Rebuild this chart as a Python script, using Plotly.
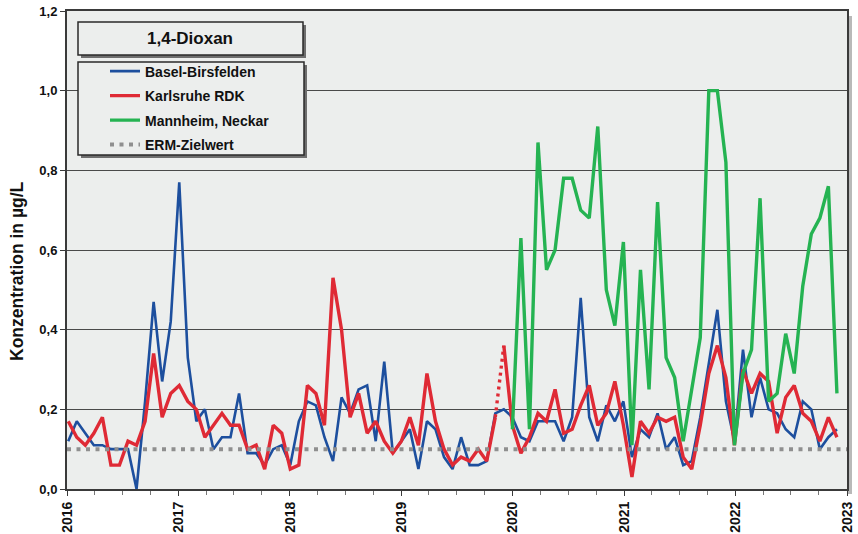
import pandas as pd
import plotly.graph_objects as go

# ---------------- data ----------------
FIRST_SAMPLE = "2016-01-05"      # 4-weekly composite samples
SAMPLE_STEP = "28D"

basel = [0.12, 0.17, 0.14, 0.11, 0.11, 0.10, 0.10, 0.10, 0.00, 0.22,
         0.47, 0.27, 0.42, 0.77, 0.33, 0.17, 0.20, 0.10, 0.13, 0.13,
         0.24, 0.09, 0.09, 0.06, 0.10, 0.11, 0.06, 0.17, 0.22, 0.21,
         0.13, 0.07, 0.23, 0.19, 0.25, 0.26, 0.12, 0.32, 0.09, 0.12,
         0.15, 0.05, 0.17, 0.15, 0.08, 0.05, 0.13, 0.06, 0.06, 0.07,
         0.19, 0.20, 0.18, 0.13, 0.12, 0.17, 0.17, 0.17, 0.12, 0.18,
         0.48, 0.18, 0.12, 0.21, 0.17, 0.22, 0.08, 0.15, 0.13, 0.19,
         0.10, 0.13, 0.06, 0.07, 0.18, 0.32, 0.45, 0.22, 0.12, 0.35,
         0.18, 0.28, 0.20, 0.19, 0.15, 0.13, 0.22, 0.20, 0.10, 0.13,
         0.15]

karlsruhe = [0.17, 0.13, 0.11, 0.14, 0.18, 0.06, 0.06, 0.12, 0.11, 0.17,
             0.34, 0.18, 0.24, 0.26, 0.22, 0.20, 0.13, 0.16, 0.19, 0.16,
             0.16, 0.10, 0.11, 0.05, 0.16, 0.14, 0.05, 0.06, 0.26, 0.24,
             0.16, 0.53, 0.40, 0.18, 0.24, 0.14, 0.17, 0.12, 0.09, 0.12,
             0.18, 0.11, 0.29, 0.17, 0.10, 0.06, 0.08, 0.07, 0.10, 0.07,
             0.18, 0.36, 0.16, 0.09, 0.13, 0.19, 0.17, 0.25, 0.14, 0.15,
             0.21, 0.26, 0.16, 0.19, 0.27, 0.16, 0.03, 0.17, 0.14, 0.18,
             0.17, 0.18, 0.08, 0.05, 0.16, 0.29, 0.36, 0.28, 0.11, 0.30,
             0.24, 0.29, 0.27, 0.14, 0.23, 0.26, 0.19, 0.17, 0.12, 0.18,
             0.13]
KARLSRUHE_GAP_AFTER = 50   # dotted connection between sample 50 and 51

mannheim = [0.15, 0.63, 0.15, 0.87, 0.55, 0.60, 0.78, 0.78, 0.70, 0.68,
            0.91, 0.50, 0.41, 0.62, 0.11, 0.55, 0.25, 0.72, 0.33, 0.28,
            0.12, 0.25, 0.38, 1.00, 1.00, 0.82, 0.11, 0.29, 0.35, 0.73,
            0.22, 0.24, 0.39, 0.29, 0.51, 0.64, 0.68, 0.76, 0.24]
MANNHEIM_FIRST_SAMPLE = 52

ERM_ZIELWERT = 0.1
X_RANGE = ["2016-01-01", "2023-01-01"]
Y_TICKS = [0.0, 0.2, 0.4, 0.6, 0.8, 1.0, 1.2]

TITLE = "1,4-Dioxan"
Y_TITLE = "Konzentration in µg/L"
NAMES = ["Basel-Birsfelden", "Karlsruhe RDK", "Mannheim, Neckar", "ERM-Zielwert"]

# ---------------- styles ----------------
FONT = "Liberation Sans, Arial, sans-serif"
C_BLUE = "#1d4f9e"
C_RED = "#df2a35"
C_GREEN = "#25b352"
C_GREY = "#8f8f8f"
C_PLOTBG = "#eceeed"
C_FRAME = "#3a3a3a"

dates = pd.date_range(FIRST_SAMPLE, periods=len(basel), freq=SAMPLE_STEP)
g = KARLSRUHE_GAP_AFTER

fig = go.Figure()
fig.add_trace(go.Scatter(x=dates, y=basel, mode="lines", name=NAMES[0],
                         legendgroup="a", line=dict(color=C_BLUE, width=2.6)))
fig.add_trace(go.Scatter(x=dates[:g + 1], y=karlsruhe[:g + 1], mode="lines", name=NAMES[1],
                         legendgroup="b", line=dict(color=C_RED, width=3.4)))
fig.add_trace(go.Scatter(x=dates[g:g + 2], y=karlsruhe[g:g + 2], mode="lines", showlegend=False,
                         legendgroup="b", line=dict(color=C_RED, width=3.4, dash="3px,4px")))
fig.add_trace(go.Scatter(x=dates[g + 1:], y=karlsruhe[g + 1:], mode="lines", showlegend=False,
                         legendgroup="b", line=dict(color=C_RED, width=3.4)))
fig.add_trace(go.Scatter(x=dates[MANNHEIM_FIRST_SAMPLE:MANNHEIM_FIRST_SAMPLE + len(mannheim)],
                         y=mannheim, mode="lines", name=NAMES[2],
                         legendgroup="c", line=dict(color=C_GREEN, width=3.4)))
fig.add_trace(go.Scatter(x=X_RANGE, y=[ERM_ZIELWERT, ERM_ZIELWERT], mode="lines", name=NAMES[3],
                         legendgroup="d", line=dict(color=C_GREY, width=4, dash="4px,5.5px")))

PL, PR, PT, PB = 67, 11, 11, 45
W, H = 858, 534
pw, ph = W - PL - PR, H - PT - PB


def px2paper(x, y):
    return (x - PL) / pw, (H - PB - y) / ph


shapes = []


def box(x0, y0, x1, y1, shadow=3, fill=C_PLOTBG):
    a0, b1 = px2paper(x0 + shadow, y0 + shadow)
    a1, b0 = px2paper(x1 + shadow, y1 + shadow)
    shapes.append(dict(type="rect", xref="paper", yref="paper", x0=a0, x1=a1, y0=b0, y1=b1,
                       fillcolor="#6e6e6e", line=dict(width=0), layer="above"))
    a0, b1 = px2paper(x0, y0)
    a1, b0 = px2paper(x1, y1)
    shapes.append(dict(type="rect", xref="paper", yref="paper", x0=a0, x1=a1, y0=b0, y1=b1,
                       fillcolor=fill, line=dict(color="#2a2a2a", width=1.5), layer="above"))


# plot drop shadow (right/bottom)
sa0, sb0 = px2paper(W - PR, H - PB + 5)
sa1, sb1 = px2paper(W - PR + 5, PT + 5)
shapes.append(dict(type="rect", xref="paper", yref="paper", x0=sa0, x1=sa1, y0=sb0, y1=sb1,
                   fillcolor="#b9b9b9", line=dict(width=0), layer="below"))

box(78, 22, 303, 55)
box(78, 62, 304, 155)

tx, ty = px2paper(190, 38.5)
yx, yy = px2paper(17, 271)

fig.update_layout(
    width=W, height=H,
    margin=dict(l=PL, r=PR, t=PT, b=PB, pad=0, autoexpand=False),
    paper_bgcolor="white", plot_bgcolor=C_PLOTBG,
    separators=",.",
    font=dict(family=FONT, color="#111111"),
    shapes=shapes,
    annotations=[
        dict(text="<b>%s</b>" % TITLE, xref="paper", yref="paper", x=tx, y=ty,
             xanchor="center", yanchor="middle", showarrow=False,
             font=dict(size=17, family=FONT, color="#111111")),
        dict(text="<b>%s</b>" % Y_TITLE, xref="paper", yref="paper", x=yx, y=yy,
             xanchor="center", yanchor="middle", showarrow=False, textangle=-90,
             font=dict(size=17.5, family=FONT, color="#111111")),
    ],
    showlegend=True,
    legend=dict(x=px2paper(105, 0)[0], y=px2paper(0, 55.5)[1], xanchor="left", yanchor="top",
                bgcolor="rgba(0,0,0,0)", borderwidth=0, tracegroupgap=3.3,
                font=dict(size=14, family=FONT, color="#111111"), itemwidth=30),
)

fig.update_xaxes(
    type="date", range=X_RANGE, dtick="M12", tick0="2016-01-01", tickformat="<b>%Y</b>",
    tickangle=-90, ticks="outside", ticklen=5, tickcolor=C_FRAME, automargin=False,
    tickfont=dict(size=14, family=FONT, color="#111111"),
    showgrid=False, showline=True, linecolor=C_FRAME, linewidth=2, mirror=True,
    minor=dict(dtick="M3", ticks="outside", ticklen=4, tickcolor="#777777", showgrid=False),
)
fig.update_yaxes(
    range=[0, 1.2], tickvals=Y_TICKS, ticktext=["<b>%s</b>" % f"{v:.1f}".replace(".", ",") for v in Y_TICKS],
    ticks="outside", ticklen=5, tickcolor=C_FRAME, automargin=False,
    tickfont=dict(size=13, family=FONT, color="#111111"),
    showgrid=True, gridcolor="#4a4a4a", gridwidth=1,
    showline=True, linecolor=C_FRAME, linewidth=2, mirror=True, zeroline=False,
)

# bold legend names
for tr in fig.data:
    if tr.name:
        tr.name = "<b>%s</b>" % tr.name

fig.write_html("out.html")
